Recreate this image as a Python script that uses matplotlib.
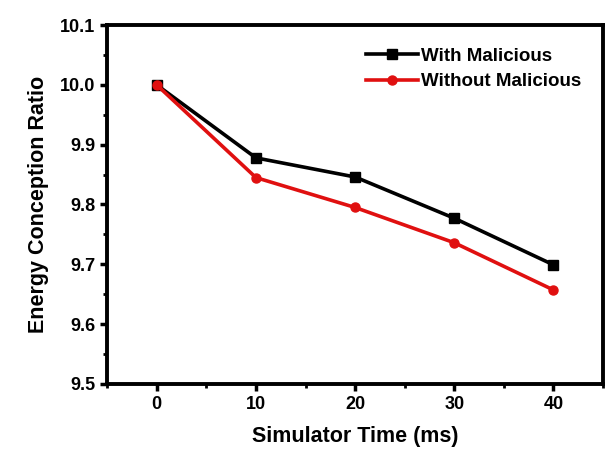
import matplotlib
matplotlib.use("Agg")
import matplotlib.pyplot as plt
from matplotlib.ticker import MultipleLocator

time_ms = [0, 10, 20, 30, 40]
with_malicious = [10.0, 9.878, 9.846, 9.777, 9.699]
without_malicious = [10.0, 9.845, 9.795, 9.736, 9.657]

plt.rcParams['font.family'] = ['Liberation Sans', 'DejaVu Sans']
plt.rcParams['font.weight'] = 'bold'

fig = plt.figure(figsize=(6.16, 4.58), dpi=100)
ax = fig.add_axes([0.174, 0.162, 0.805, 0.783])

ax.plot(time_ms, with_malicious, color='black', marker='s', markersize=6.5,
        linewidth=2.6, label='With Malicious')
ax.plot(time_ms, without_malicious, color='#e01010', marker='o', markersize=6.5,
        linewidth=2.6, label='Without Malicious')

ax.set_xlim(-5, 45)
ax.set_ylim(9.5, 10.1)
ax.xaxis.set_major_locator(MultipleLocator(10))
ax.xaxis.set_minor_locator(MultipleLocator(5))
ax.yaxis.set_major_locator(MultipleLocator(0.1))
ax.yaxis.set_minor_locator(MultipleLocator(0.05))
ax.yaxis.set_major_formatter(matplotlib.ticker.FormatStrFormatter('%.1f'))

for s in ax.spines.values():
    s.set_linewidth(2.8)
ax.tick_params(which='major', direction='out', length=5, width=2.5, labelsize=13)
ax.tick_params(which='minor', direction='out', length=3, width=2)

ax.set_xlabel('Simulator Time (ms)', fontsize=15.5, fontweight='bold', labelpad=10)
ax.set_ylabel('Energy Conception Ratio', fontsize=15.5, fontweight='bold', labelpad=8)

leg = ax.legend(loc='upper right', frameon=False, fontsize=13.5, handlelength=2.8,
                handletextpad=0.15, borderaxespad=0.5, labelspacing=0.45,
                bbox_to_anchor=(0.99, 0.985))

fig.savefig('out.png', dpi=100)
